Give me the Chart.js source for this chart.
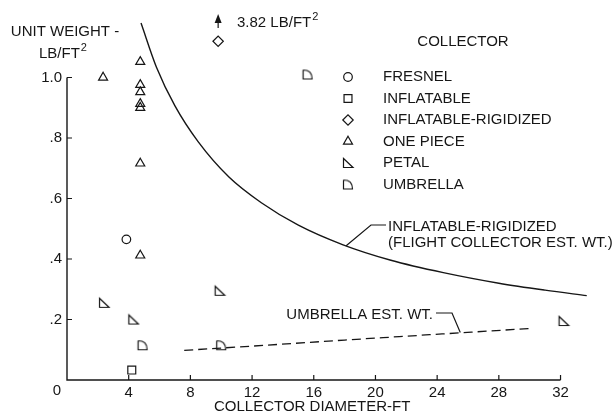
<!DOCTYPE html>
<html>
<head>
<meta charset="utf-8">
<script src="https://cdn.jsdelivr.net/npm/chart.js"></script>
<style>
  html, body { margin: 0; padding: 0; background: #fff; }
</style>
</head>
<body>
<canvas id="chart" width="615" height="415"></canvas>
<script>
const FONT = '"Liberation Sans", Arial, sans-serif'
const INK = '#161616'

const xTickValues = [0, 4, 8, 12, 16, 20, 24, 28, 32]
const yTickValues = [0.2, 0.4, 0.6, 0.8, 1.0]
const yTickLabels = ['.2', '.4', '.6', '.8', '1.0']

const seriesNames = ['FRESNEL', 'INFLATABLE', 'INFLATABLE-RIGIDIZED', 'ONE PIECE', 'PETAL', 'UMBRELLA']

const fresnelX = [3.85]
const fresnelY = [0.465]
const inflatableX = [4.2]
const inflatableY = [0.033]
// real value is 3.82 lb/ft2, drawn off scale at the top with an arrow
const rigidizedX = [9.8]
const rigidizedY = [1.12]
const onePieceX = [2.34, 4.75, 4.75, 4.75, 4.75, 4.75, 4.75, 4.75]
const onePieceY = [1.0, 1.052, 0.976, 0.952, 0.913, 0.9, 0.716, 0.412]
const petalX = [2.4, 4.3, 9.9, 32.2]
const petalY = [0.255, 0.2, 0.295, 0.195]
const umbrellaX = [4.9, 10.0, 15.6]
const umbrellaY = [0.115, 0.115, 1.01]

// estimated weight curves
const rigidCurveX = [4.8, 5.8, 7, 8.5, 10.5, 12.6, 15, 17.9, 21, 24.4, 28, 31, 33.7]
const rigidCurveY = [1.18, 1.034, 0.906, 0.788, 0.671, 0.586, 0.512, 0.447, 0.396, 0.355, 0.32, 0.297, 0.279]
const umbrellaCurveX = [7.6, 12, 18, 25.5, 30.2]
const umbrellaCurveY = [0.098, 0.112, 0.132, 0.156, 0.171]

function pts(xs, ys) {
  return xs.map((x, i) => ({ x: x, y: ys[i] }))
}

function makeMarker(draw) {
  const c = document.createElement('canvas')
  c.width = 14
  c.height = 14
  const g = c.getContext('2d')
  g.strokeStyle = INK
  g.lineWidth = 1.2
  g.beginPath()
  draw(g)
  g.stroke()
  return c
}

const petalImg = makeMarker(g => {
  g.moveTo(2.5, 2.5); g.lineTo(2.5, 11.5); g.lineTo(12, 11.5); g.closePath()
})
const umbrellaImg = makeMarker(g => {
  g.moveTo(2.5, 2.5); g.lineTo(2.5, 11.5); g.lineTo(11.5, 11.5); g.quadraticCurveTo(11.5, 2.5, 2.5, 2.5)
})

const markerStyles = ['circle', 'rect', 'rectRot', 'triangle', petalImg, umbrellaImg]
const markerRadius = [4.3, 5.6, 5.2, 5.2, 7, 7]
const markerData = [
  pts(fresnelX, fresnelY),
  pts(inflatableX, inflatableY),
  pts(rigidizedX, rigidizedY),
  pts(onePieceX, onePieceY),
  pts(petalX, petalY),
  pts(umbrellaX, umbrellaY),
]

const datasets = seriesNames.map((name, i) => ({
  label: name,
  data: markerData[i],
  pointStyle: markerStyles[i],
  pointRadius: markerRadius[i],
  pointBorderColor: INK,
  pointBackgroundColor: 'rgba(0,0,0,0)',
  pointBorderWidth: 1.2,
  showLine: false,
}))

datasets.push({
  label: 'rigidized est',
  data: pts(rigidCurveX, rigidCurveY),
  showLine: true,
  borderColor: INK,
  borderWidth: 1.4,
  pointRadius: 0,
  cubicInterpolationMode: 'monotone',
})
datasets.push({
  label: 'umbrella est',
  data: pts(umbrellaCurveX, umbrellaCurveY),
  showLine: true,
  borderColor: INK,
  borderWidth: 1.3,
  borderDash: [9, 5],
  pointRadius: 0,
  cubicInterpolationMode: 'monotone',
})

function textSup(ctx, base, sup, x, y, align) {
  ctx.font = '15px ' + FONT
  const wb = ctx.measureText(base).width
  ctx.font = '11px ' + FONT
  const ws = ctx.measureText(sup).width
  let left = x
  if (align === 'center') left = x - (wb + ws + 1) / 2
  ctx.textAlign = 'left'
  ctx.font = '15px ' + FONT
  ctx.fillText(base, left, y)
  ctx.font = '11px ' + FONT
  ctx.fillText(sup, left + wb + 1, y - 6)
}

function drawMarker(ctx, style, r, x, y) {
  ctx.beginPath()
  if (style === 'circle') {
    ctx.arc(x, y, r, 0, Math.PI * 2)
  } else if (style === 'rect') {
    const s = Math.SQRT1_2 * r
    ctx.rect(x - s, y - s, 2 * s, 2 * s)
  } else if (style === 'rectRot') {
    ctx.moveTo(x - r, y); ctx.lineTo(x, y - r); ctx.lineTo(x + r, y); ctx.lineTo(x, y + r); ctx.closePath()
  } else if (style === 'triangle') {
    ctx.moveTo(x, y - r); ctx.lineTo(x + 0.866 * r, y + r / 2); ctx.lineTo(x - 0.866 * r, y + r / 2); ctx.closePath()
  } else {
    ctx.drawImage(style, x - style.width / 2, y - style.height / 2)
    return
  }
  ctx.stroke()
}

const paperPlugin = {
  id: 'paper',
  afterDraw(chart) {
    const ctx = chart.ctx
    const xs = chart.scales.x
    const ys = chart.scales.y
    const x0 = xs.getPixelForValue(0)
    const y0 = ys.getPixelForValue(0)
    ctx.save()
    ctx.strokeStyle = INK
    ctx.fillStyle = INK
    ctx.lineWidth = 1.4

    // axes, only up to 32 ft and 1.0
    ctx.beginPath()
    ctx.moveTo(x0, ys.getPixelForValue(1.0))
    ctx.lineTo(x0, y0)
    ctx.lineTo(xs.getPixelForValue(32), y0)
    ctx.stroke()
    ctx.lineWidth = 1.2
    ctx.beginPath()
    yTickValues.forEach(v => {
      const p = ys.getPixelForValue(v)
      ctx.moveTo(x0, p); ctx.lineTo(x0 + 5, p)
    })
    xTickValues.slice(1).forEach(v => {
      const p = xs.getPixelForValue(v)
      ctx.moveTo(p, y0); ctx.lineTo(p, y0 - 5)
    })
    ctx.stroke()

    ctx.textBaseline = 'middle'
    ctx.font = '15px ' + FONT
    ctx.textAlign = 'center'
    // corner zero sits left of the axis
    ctx.fillText('0', x0 - 10, 391)
    // axis titles
    ctx.fillText('UNIT WEIGHT -', 65, 32)
    textSup(ctx, 'LB/FT', '2', 63, 54, 'center')
    ctx.font = '15px ' + FONT
    ctx.textAlign = 'center'
    ctx.fillText('COLLECTOR DIAMETER-FT', xs.getPixelForValue(15.9), 407)

    // legend
    ctx.fillText('COLLECTOR', 463, 42)
    seriesNames.forEach((name, i) => {
      const ry = 77 + i * 21.5
      drawMarker(ctx, markerStyles[i], markerRadius[i], 348, ry)
      ctx.font = '15px ' + FONT
      ctx.textAlign = 'left'
      ctx.fillText(name, 383, ry)
    })

    // off-scale value for the inflatable-rigidized point
    const ax = xs.getPixelForValue(rigidizedX[0])
    ctx.beginPath()
    ctx.moveTo(ax, 14); ctx.lineTo(ax + 3.5, 23); ctx.lineTo(ax - 3.5, 23); ctx.closePath()
    ctx.fill()
    ctx.beginPath()
    ctx.moveTo(ax, 22); ctx.lineTo(ax, 28)
    ctx.stroke()
    textSup(ctx, '3.82 LB/FT', '2', 237, 23, 'left')

    // curve labels with leaders
    ctx.font = '15px ' + FONT
    ctx.textAlign = 'left'
    ctx.fillText('INFLATABLE-RIGIDIZED', 388, 227)
    ctx.fillText('(FLIGHT COLLECTOR EST. WT.)', 388, 243)
    ctx.beginPath()
    ctx.moveTo(386, 225); ctx.lineTo(371, 225)
    ctx.lineTo(xs.getPixelForValue(18.1), ys.getPixelForValue(0.444))
    ctx.stroke()

    ctx.textAlign = 'right'
    ctx.fillText('UMBRELLA EST. WT.', 433, 315)
    ctx.beginPath()
    ctx.moveTo(436, 313); ctx.lineTo(452, 313)
    ctx.lineTo(xs.getPixelForValue(25.5), ys.getPixelForValue(0.157))
    ctx.stroke()
    ctx.restore()
  }
}

new Chart(document.getElementById('chart').getContext('2d'), {
  type: 'scatter',
  data: { datasets: datasets },
  plugins: [paperPlugin],
  options: {
    responsive: false,
    animation: false,
    layout: { padding: { top: 5, right: 4, left: 0, bottom: 0 } },
    plugins: {
      legend: { display: false },
      tooltip: { enabled: false },
    },
    scales: {
      x: {
        type: 'linear',
        min: 0,
        max: 35,
        grid: { display: false, drawTicks: false },
        border: { display: false },
        afterBuildTicks: s => { s.ticks = xTickValues.map(v => ({ value: v })) },
        afterFit: s => { s.height = 35 },
        ticks: {
          font: { family: FONT, size: 15 },
          color: INK,
          padding: 4,
          maxRotation: 0,
          autoSkip: false,
          callback: v => (v === 0 ? '' : v),
        },
      },
      y: {
        type: 'linear',
        min: 0,
        max: 1.21,
        grid: { display: false, drawTicks: false },
        border: { display: false },
        afterBuildTicks: s => { s.ticks = yTickValues.map(v => ({ value: v })) },
        afterFit: s => { s.width = 67 },
        ticks: {
          font: { family: FONT, size: 15 },
          color: INK,
          padding: 5,
          autoSkip: false,
          callback: (v, i) => yTickLabels[i],
        },
      },
    },
  },
})
</script>
</body>
</html>
